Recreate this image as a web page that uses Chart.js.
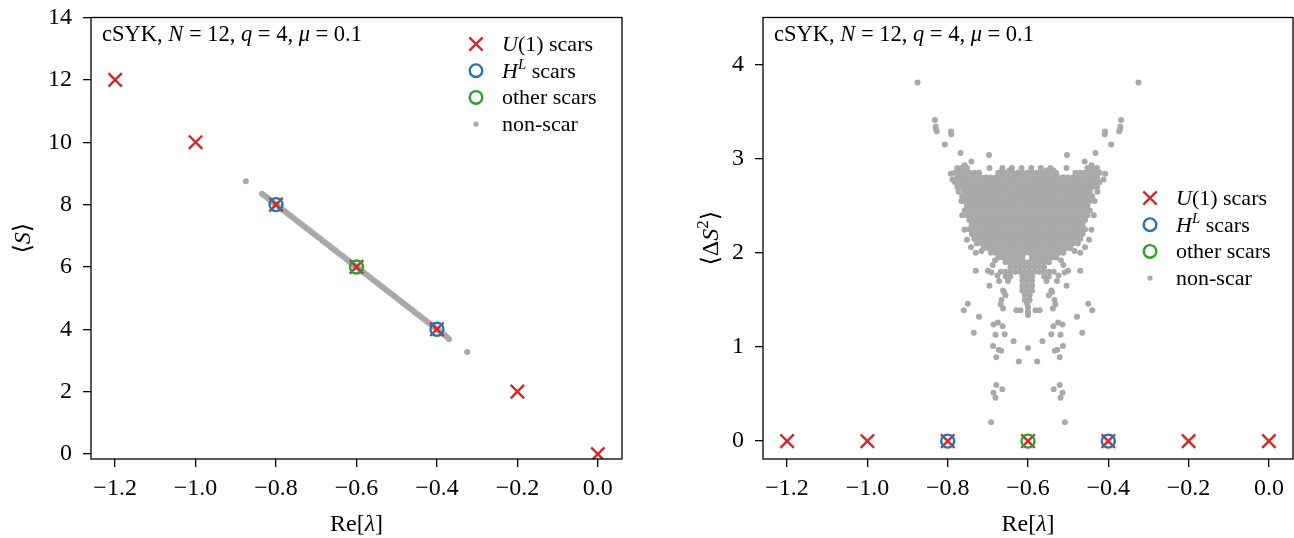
<!DOCTYPE html>
<html>
<head>
<meta charset="utf-8">
<script src="https://cdn.jsdelivr.net/npm/chart.js@4/dist/chart.umd.min.js"></script>
<style>
  body { margin: 0; background: #fff; }
  #wrap { position: relative; width: 1294px; height: 538px; overflow: hidden; }
  #wrap canvas { position: absolute; top: 0; }
</style>
</head>
<body>
<div id="wrap">
  <canvas id="left" width="640" height="538" style="left:0"></canvas>
  <canvas id="right" width="662" height="538" style="left:650px"></canvas>
</div>
<script>
// ticks
var xTicks = [-1.2, -1.0, -0.8, -0.6, -0.4, -0.2, 0.0];
var sTicks = [0, 2, 4, 6, 8, 10, 12, 14];
var dsTicks = [0, 1, 2, 3, 4];

// scars
var u1Re = [-1.2, -1.0, -0.8, -0.6, -0.4, -0.2, 0.0];
var u1S = [12, 10, 8, 6, 4, 2, 0];
var u1DS = [0, 0, 0, 0, 0, 0, 0];
var hlRe = [-0.8, -0.4];
var hlS = [8, 4];
var hlDS = [0, 0];
var otherRe = [-0.6];
var otherS = [6];
var otherDS = [0];

// non-scar, left panel (they sit on a line)
var nsRe = [-0.875, -0.835, -0.83, -0.825, -0.82, -0.815, -0.81, -0.805, -0.80, -0.795, -0.79, -0.785, -0.78, -0.775, -0.77,
  -0.765, -0.76, -0.755, -0.75, -0.745, -0.74, -0.735, -0.73, -0.725, -0.72, -0.715, -0.71, -0.705, -0.70, -0.695,
  -0.69, -0.685, -0.68, -0.675, -0.67, -0.665, -0.66, -0.655, -0.65, -0.645, -0.64, -0.635, -0.63, -0.625, -0.62, -0.615,
  -0.61, -0.605, -0.60, -0.595, -0.59, -0.585, -0.58, -0.575, -0.57, -0.565, -0.56, -0.555, -0.55, -0.545, -0.54, -0.535,
  -0.53, -0.525, -0.52, -0.515, -0.51, -0.505, -0.50, -0.495, -0.49, -0.485, -0.48, -0.475, -0.47, -0.465, -0.46, -0.455,
  -0.45, -0.445, -0.44, -0.435, -0.43, -0.425, -0.42, -0.415, -0.41, -0.405, -0.40, -0.395, -0.39, -0.385, -0.38, -0.375,
  -0.37, -0.325];
var nsS = [8.75, 8.35, 8.3, 8.25, 8.2, 8.15, 8.1, 8.05, 8.0, 7.95, 7.9, 7.85, 7.8, 7.75, 7.7,
  7.65, 7.6, 7.55, 7.5, 7.45, 7.4, 7.35, 7.3, 7.25, 7.2, 7.15, 7.1, 7.05, 7.0, 6.95,
  6.9, 6.85, 6.8, 6.75, 6.7, 6.65, 6.6, 6.55, 6.5, 6.45, 6.4, 6.35, 6.3, 6.25, 6.2, 6.15,
  6.1, 6.05, 6.0, 5.95, 5.9, 5.85, 5.8, 5.75, 5.7, 5.65, 5.6, 5.55, 5.5, 5.45, 5.4, 5.35,
  5.3, 5.25, 5.2, 5.15, 5.1, 5.05, 5.0, 4.95, 4.9, 4.85, 4.8, 4.75, 4.7, 4.65, 4.6, 4.55,
  4.5, 4.45, 4.4, 4.35, 4.3, 4.25, 4.2, 4.15, 4.1, 4.05, 4.0, 3.95, 3.9, 3.85, 3.8, 3.75,
  3.68, 3.27];

// non-scar, right panel: dense cloud, row by row [<dS^2>, Re values]
var cloudRows = [
  [2.90, [-0.776,-0.764,-0.752,-0.664,-0.640,-0.616,-0.592,-0.568,-0.544,-0.452,-0.440,-0.428]],
  [2.85, [-0.782,-0.770,-0.758,-0.746,-0.734,-0.722,-0.674,-0.662,-0.650,-0.638,-0.626,-0.614,-0.602,-0.590,-0.578,-0.566,-0.554,-0.542,-0.530,-0.482,-0.470,-0.458,-0.446,-0.434,-0.422]],
  [2.80, [-0.776,-0.764,-0.752,-0.740,-0.728,-0.716,-0.704,-0.692,-0.680,-0.668,-0.656,-0.644,-0.632,-0.620,-0.608,-0.596,-0.584,-0.572,-0.560,-0.548,-0.536,-0.524,-0.512,-0.500,-0.488,-0.476,-0.464,-0.452,-0.440,-0.428]],
  [2.75, [-0.782,-0.770,-0.758,-0.746,-0.734,-0.722,-0.710,-0.698,-0.686,-0.674,-0.662,-0.650,-0.638,-0.626,-0.614,-0.602,-0.590,-0.578,-0.566,-0.554,-0.542,-0.530,-0.518,-0.506,-0.494,-0.482,-0.470,-0.458,-0.446,-0.434,-0.422]],
  [2.70, [-0.776,-0.764,-0.752,-0.740,-0.728,-0.716,-0.704,-0.692,-0.680,-0.668,-0.656,-0.644,-0.632,-0.620,-0.608,-0.596,-0.584,-0.572,-0.560,-0.548,-0.536,-0.524,-0.512,-0.500,-0.488,-0.476,-0.464,-0.452,-0.440,-0.428]],
  [2.65, [-0.758,-0.746,-0.734,-0.722,-0.710,-0.698,-0.686,-0.674,-0.662,-0.650,-0.638,-0.626,-0.614,-0.602,-0.590,-0.578,-0.566,-0.554,-0.542,-0.530,-0.518,-0.506,-0.494,-0.482,-0.470,-0.458,-0.446]],
  [2.60, [-0.764,-0.752,-0.740,-0.728,-0.716,-0.704,-0.692,-0.680,-0.668,-0.656,-0.644,-0.632,-0.620,-0.608,-0.596,-0.584,-0.572,-0.560,-0.548,-0.536,-0.524,-0.512,-0.500,-0.488,-0.476,-0.464,-0.452,-0.440]],
  [2.55, [-0.758,-0.746,-0.734,-0.722,-0.710,-0.698,-0.686,-0.674,-0.662,-0.650,-0.638,-0.626,-0.614,-0.602,-0.590,-0.578,-0.566,-0.554,-0.542,-0.530,-0.518,-0.506,-0.494,-0.482,-0.470,-0.458,-0.446]],
  [2.50, [-0.752,-0.740,-0.728,-0.716,-0.704,-0.692,-0.680,-0.668,-0.656,-0.644,-0.632,-0.620,-0.608,-0.596,-0.584,-0.572,-0.560,-0.548,-0.536,-0.524,-0.512,-0.500,-0.488,-0.476,-0.464,-0.452]],
  [2.45, [-0.758,-0.746,-0.734,-0.722,-0.710,-0.698,-0.686,-0.674,-0.662,-0.650,-0.638,-0.626,-0.614,-0.602,-0.590,-0.578,-0.566,-0.554,-0.542,-0.530,-0.518,-0.506,-0.494,-0.482,-0.470,-0.458,-0.446]],
  [2.40, [-0.752,-0.740,-0.728,-0.716,-0.704,-0.692,-0.680,-0.668,-0.656,-0.644,-0.632,-0.620,-0.608,-0.596,-0.584,-0.572,-0.560,-0.548,-0.536,-0.524,-0.512,-0.500,-0.488,-0.476,-0.464,-0.452]],
  [2.35, [-0.746,-0.734,-0.722,-0.710,-0.698,-0.686,-0.674,-0.662,-0.650,-0.638,-0.626,-0.614,-0.602,-0.590,-0.578,-0.566,-0.554,-0.542,-0.530,-0.518,-0.506,-0.494,-0.482,-0.470,-0.458]],
  [2.30, [-0.740,-0.728,-0.716,-0.704,-0.692,-0.680,-0.668,-0.656,-0.644,-0.632,-0.620,-0.608,-0.596,-0.584,-0.572,-0.560,-0.548,-0.536,-0.524,-0.512,-0.500,-0.488,-0.476,-0.464]],
  [2.25, [-0.746,-0.734,-0.722,-0.710,-0.698,-0.686,-0.674,-0.662,-0.650,-0.638,-0.626,-0.614,-0.602,-0.590,-0.578,-0.566,-0.554,-0.542,-0.530,-0.518,-0.506,-0.494,-0.482,-0.470,-0.458]],
  [2.20, [-0.740,-0.728,-0.716,-0.704,-0.692,-0.680,-0.668,-0.656,-0.644,-0.632,-0.620,-0.608,-0.596,-0.584,-0.572,-0.560,-0.548,-0.536,-0.524,-0.512,-0.500,-0.488,-0.476,-0.464]],
  [2.15, [-0.734,-0.722,-0.710,-0.698,-0.686,-0.674,-0.662,-0.650,-0.638,-0.626,-0.614,-0.602,-0.590,-0.578,-0.566,-0.554,-0.542,-0.530,-0.518,-0.506,-0.494,-0.482,-0.470]],
  [2.10, [-0.728,-0.716,-0.704,-0.692,-0.680,-0.668,-0.656,-0.644,-0.632,-0.620,-0.608,-0.596,-0.584,-0.572,-0.560,-0.548,-0.536,-0.524,-0.512,-0.500,-0.488,-0.476]],
  [2.05, [-0.710,-0.698,-0.686,-0.674,-0.662,-0.650,-0.638,-0.626,-0.614,-0.602,-0.590,-0.578,-0.566,-0.554,-0.542,-0.530,-0.518,-0.506,-0.494]],
  [2.00, [-0.692,-0.680,-0.668,-0.656,-0.644,-0.632,-0.620,-0.608,-0.596,-0.584,-0.572,-0.560,-0.548,-0.536,-0.524,-0.512]],
  [1.95, [-0.674,-0.662,-0.650,-0.638,-0.626,-0.614,-0.590,-0.578,-0.566,-0.554,-0.542,-0.530]],
  [1.90, [-0.656,-0.644,-0.632,-0.620,-0.608,-0.596,-0.584,-0.572,-0.560,-0.548]],
  [1.85, [-0.644,-0.632,-0.620,-0.608,-0.596,-0.584,-0.572,-0.560]],
  [1.80, [-0.668,-0.656,-0.644,-0.632,-0.620,-0.608,-0.596,-0.584,-0.572,-0.560,-0.548,-0.536]],
  [1.75, [-0.656,-0.644,-0.614,-0.602,-0.590,-0.560,-0.548]],
  [1.70, [-0.650,-0.614,-0.602,-0.590,-0.554]],
  [1.65, [-0.614,-0.602,-0.590]],
  [1.60, [-0.662,-0.614,-0.602,-0.590,-0.542]],
  [1.55, [-0.656,-0.608,-0.596,-0.548]],
  [1.50, [-0.608,-0.596]],
  [1.46, [-0.602]]
];

// non-scar, right panel: scattered points around the cloud
var looseRe = [-0.875,-0.325, -0.832,-0.368, -0.830,-0.370, -0.829,-0.371, -0.827,-0.373, -0.792,-0.408, -0.791,-0.409,
  -0.807,-0.393, -0.768,-0.432, -0.697,-0.503, -0.741,-0.459, -0.758,-0.442, -0.696,-0.504, -0.792,-0.408, -0.788,-0.412,
  -0.773,-0.427, -0.766,-0.434, -0.764,-0.436, -0.758,-0.442, -0.752,-0.448, -0.742,-0.458, -0.730,-0.470, -0.716,-0.484,
  -0.730,-0.470, -0.700,-0.500, -0.691,-0.509, -0.696,-0.504, -0.682,-0.518, -0.688,-0.512, -0.676,-0.524, -0.672,-0.528,
  -0.666,-0.534, -0.668,-0.532, -0.662,-0.538, -0.750,-0.450, -0.760,-0.440, -0.722,-0.478, -0.735,-0.465, -0.629,-0.571,
  -0.619,-0.581, -0.686,-0.514, -0.675,-0.525, -0.663,-0.537, -0.681,-0.519, -0.658,-0.542, -0.687,-0.513, -0.673,-0.527,
  -0.667,-0.533, -0.679,-0.521, -0.636,-0.564, -0.623,-0.577, -0.679,-0.521, -0.664,-0.536, -0.686,-0.514, -0.681,-0.519,
  -0.692,-0.508, -0.660,-0.540, -0.663,-0.537, -0.646,-0.554, -0.600, -0.600, -0.600, -0.600];
var looseDS = [3.81,3.81, 3.41,3.41, 3.34,3.34, 3.31,3.31, 3.29,3.29, 3.29,3.29, 3.26,3.26,
  3.15,3.15, 3.06,3.06, 3.04,3.04, 2.97,2.97, 2.93,2.93, 2.90,2.90, 2.84,2.84, 2.78,2.78,
  2.65,2.65, 2.55,2.55, 2.40,2.40, 2.245,2.245, 2.14,2.14, 2.06,2.06, 2.00,2.00, 2.02,2.02,
  1.81,1.81, 1.81,1.81, 1.79,1.79, 1.65,1.65, 1.92,1.92, 1.87,1.87, 1.76,1.76, 1.70,1.70,
  1.50,1.50, 1.45,1.45, 1.41,1.41, 1.46,1.46, 1.39,1.39, 1.32,1.32, 1.15,1.15, 1.39,1.39,
  1.39,1.39, 1.24,1.24, 1.26,1.26, 1.22,1.22, 1.13,1.13, 1.135,1.135, 1.01,1.01, 0.97,0.97,
  0.96,0.96, 0.89,0.89, 1.06,1.06, 0.845,0.845, 0.596,0.596, 0.55,0.55, 0.514,0.514, 0.46,0.46,
  0.20,0.20, 1.585,1.585, 2.875,2.875, 2.875,2.875, 0.99, 1.34, 1.375, 1.42];

var SERIF = "'Liberation Serif', 'DejaVu Serif', serif";
var RED = '#d62728', BLUE = '#1f77b4', GREEN = '#2ca02c', GREY = '#a9a9a9';

function pts(xs, ys) { return xs.map(function (x, i) { return { x: x, y: ys[i] }; }); }
function fmtX(v) { return (v < -1e-9 ? '\u2212' : '') + Math.abs(v).toFixed(1); }

var cloud = [];
cloudRows.forEach(function (r) { r[1].forEach(function (x) { cloud.push({ x: x, y: r[0] }); }); });
cloud = cloud.concat(pts(looseRe, looseDS));

function datasets(u1, hl, other, grey) {
  return [
    { data: other, pointStyle: 'circle', pointRadius: 6.5, borderWidth: 2.4, borderColor: GREEN, backgroundColor: 'rgba(0,0,0,0)' },
    { data: hl, pointStyle: 'circle', pointRadius: 6.5, borderWidth: 2.4, borderColor: BLUE, backgroundColor: 'rgba(0,0,0,0)' },
    { data: u1, pointStyle: 'crossRot', pointRadius: 9.5, borderWidth: 2.4, borderColor: RED, backgroundColor: RED },
    { data: grey, pointStyle: 'circle', pointRadius: 3, borderWidth: 0, backgroundColor: GREY, borderColor: GREY }
  ];
}

// text in pieces, some italic, some raised
function runFont(r, size) { return (r.it ? 'italic ' : '') + (r.sup ? Math.round(size * 0.7) : size) + 'px ' + SERIF; }
function drawRuns(ctx, runs, x, y, size, align) {
  var w = 0;
  runs.forEach(function (r) { ctx.font = runFont(r, size); w += ctx.measureText(r.t).width; });
  var cx = align === 'center' ? x - w / 2 : x;
  ctx.textAlign = 'left';
  ctx.textBaseline = 'alphabetic';
  ctx.fillStyle = '#000';
  runs.forEach(function (r) {
    ctx.font = runFont(r, size);
    ctx.fillText(r.t, cx, y - (r.sup ? size * 0.4 : 0));
    cx += ctx.measureText(r.t).width;
  });
}

var noteRuns = [{ t: 'cSYK, ' }, { t: 'N', it: 1 }, { t: ' = 12, ' }, { t: 'q', it: 1 }, { t: ' = 4, ' }, { t: '\u03bc', it: 1 }, { t: ' = 0.1' }];
var legendItems = [
  { kind: 'x', color: RED, runs: [{ t: 'U', it: 1 }, { t: '(1) scars' }] },
  { kind: 'o', color: BLUE, runs: [{ t: 'H', it: 1 }, { t: 'L', it: 1, sup: 1 }, { t: ' scars' }] },
  { kind: 'o', color: GREEN, runs: [{ t: 'other scars' }] },
  { kind: 'dot', color: GREY, runs: [{ t: 'non-scar' }] }
];
var reRuns = [{ t: 'Re[' }, { t: '\u03bb', it: 1 }, { t: ']' }];

function decor(cfg) {
  return {
    id: 'decor',
    afterDraw: function (chart) {
      var ctx = chart.ctx, a = chart.chartArea;
      ctx.save();
      ctx.strokeStyle = '#000';
      ctx.lineWidth = 1.3;
      ctx.strokeRect(a.left, a.top, a.right - a.left, a.bottom - a.top);
      drawRuns(ctx, noteRuns, a.left + 11, 41, 22.5, 'left');
      legendItems.forEach(function (it, i) {
        var y = cfg.legY + i * 26.7, x = cfg.legX;
        ctx.strokeStyle = it.color; ctx.fillStyle = it.color; ctx.lineWidth = 2.4;
        ctx.beginPath();
        if (it.kind === 'x') {
          ctx.moveTo(x - 6.7, y - 6.7); ctx.lineTo(x + 6.7, y + 6.7);
          ctx.moveTo(x - 6.7, y + 6.7); ctx.lineTo(x + 6.7, y - 6.7);
          ctx.stroke();
        } else if (it.kind === 'o') {
          ctx.arc(x, y, 6.3, 0, Math.PI * 2); ctx.stroke();
        } else {
          ctx.arc(x, y, 2.6, 0, Math.PI * 2); ctx.fill();
        }
        drawRuns(ctx, it.runs, x + 26, y + 7, 22, 'left');
      });
      drawRuns(ctx, reRuns, (a.left + a.right) / 2, 531, 24, 'center');
      ctx.translate(cfg.yTitleX, (a.top + a.bottom) / 2);
      ctx.rotate(-Math.PI / 2);
      drawRuns(ctx, cfg.yRuns, 0, 0, 24, 'center');
      ctx.restore();
    }
  };
}

function noPad(s) { s.paddingTop = 0; s.paddingBottom = 0; s.paddingLeft = 0; s.paddingRight = 0; }

function options(yMin, yMax, yVals, yWidth, padRight) {
  var tickFont = { family: SERIF, size: 24, lineHeight: 1.2 };
  var grid = { display: true, drawOnChartArea: false, drawTicks: true, tickLength: 8, color: '#000', lineWidth: 1.3 };
  return {
    responsive: false,
    animation: false,
    layout: { padding: { top: 17.5, right: padRight, bottom: 0, left: 0 } },
    plugins: { legend: { display: false }, tooltip: { enabled: false } },
    scales: {
      x: {
        type: 'linear', min: -1.26, max: 0.06,
        afterFit: function (s) { s.height = 79; noPad(s); },
        afterBuildTicks: function (s) { s.ticks = xTicks.map(function (v) { return { value: v }; }); },
        grid: grid, border: { display: false },
        ticks: { font: tickFont, color: '#000', padding: 7, maxRotation: 0, autoSkip: false, callback: fmtX }
      },
      y: {
        type: 'linear', min: yMin, max: yMax,
        afterFit: function (s) { s.width = yWidth; noPad(s); },
        afterBuildTicks: function (s) { s.ticks = yVals.map(function (v) { return { value: v }; }); },
        grid: grid, border: { display: false },
        ticks: { font: tickFont, color: '#000', padding: 11, autoSkip: false, callback: function (v) { return String(v); } }
      }
    }
  };
}

new Chart(document.getElementById('left'), {
  type: 'scatter',
  data: { datasets: datasets(pts(u1Re, u1S), pts(hlRe, hlS), pts(otherRe, otherS), pts(nsRe, nsS)) },
  options: options(-0.16, 14, sTicks, 91, 18),
  plugins: [decor({ legX: 476, legY: 44, yTitleX: 30, yRuns: [{ t: '\u27e8' }, { t: 'S', it: 1 }, { t: '\u27e9' }] })]
});

new Chart(document.getElementById('right'), {
  type: 'scatter',
  data: { datasets: datasets(pts(u1Re, u1DS), pts(hlRe, hlDS), pts(otherRe, otherDS), cloud) },
  options: options(-0.19, 4.5, dsTicks, 113, 19),
  plugins: [decor({ legX: 500, legY: 198, yTitleX: 68, yRuns: [{ t: '\u27e8\u0394' }, { t: 'S', it: 1 }, { t: '2', sup: 1 }, { t: '\u27e9' }] })]
});
</script>
</body>
</html>
